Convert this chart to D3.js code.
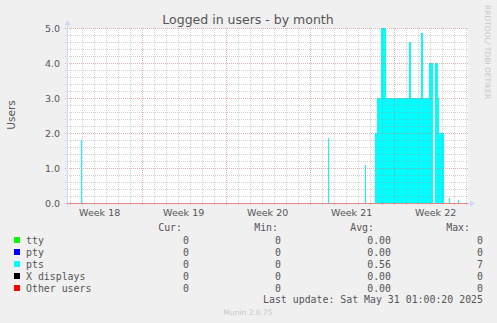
<!DOCTYPE html>
<html>
<head>
<meta charset="utf-8">
<script src="https://cdn.jsdelivr.net/npm/d3@7"></script>
<style>
  body { margin: 0; background: #f0f0f0; }
  text { font-family: "DejaVu Sans", sans-serif; }
  .mono { font-family: "DejaVu Sans Mono", monospace; }
</style>
</head>
<body>
<div id="chart"></div>
<script>
// pts series (step data, 2h resolution)
const ptsTimes = [
  "2025-04-28T18:40Z", "2025-04-29T22:40Z", "2025-04-30T00:40Z",
  "2025-05-20T12:40Z", "2025-05-20T14:40Z",
  "2025-05-23T14:40Z", "2025-05-23T16:40Z",
  "2025-05-24T10:40Z", "2025-05-24T14:40Z", "2025-05-24T22:40Z", "2025-05-25T08:40Z",
  "2025-05-27T06:40Z", "2025-05-27T10:40Z",
  "2025-05-28T06:40Z", "2025-05-28T10:40Z",
  "2025-05-28T22:40Z", "2025-05-29T06:40Z", "2025-05-29T10:40Z", "2025-05-29T16:40Z",
  "2025-05-29T18:40Z", "2025-05-30T04:40Z",
  "2025-05-30T14:40Z", "2025-05-30T16:40Z",
  "2025-05-31T08:40Z", "2025-05-31T10:40Z", "2025-06-01T02:40Z"
];
const ptsValues = [
  0, 1.8, 0,
  1.85, 0,
  1.1, 0,
  2, 3, 5, 3,
  4.6, 3,
  4.85, 3,
  4, 0, 4, 3,
  2, 0,
  0.15, 0,
  0.1, 0, 0
];

const yTicks = [0, 1, 2, 3, 4, 5];
const yTickLabels = ["0.0", "1.0", "2.0", "3.0", "4.0", "5.0"];

const legendNames = ["tty", "pty", "pts", "X displays", "Other users"];
const legendColors = ["#00ff00", "#0000ff", "#00ffff", "#000000", "#ff0000"];
const curVals = ["0", "0", "0", "0", "0"];
const minVals = ["0", "0", "0", "0", "0"];
const avgVals = ["0.00", "0.00", "0.56", "0.00", "0.00"];
const maxVals = ["0", "0", "7", "0", "0"];

const W = 497, H = 323;
const gLeft = 67, gRight = 467, gTop = 28, gBottom = 203;

const svg = d3.select("#chart").append("svg")
  .attr("width", W).attr("height", H);

svg.append("rect").attr("width", W).attr("height", H).attr("fill", "#f0f0f0");

const x = d3.scaleUtc()
  .domain([new Date("2025-04-28T18:40Z"), new Date("2025-06-01T02:40Z")])
  .range([gLeft, gRight]);
const y = d3.scaleLinear().domain([0, 5]).range([gBottom, gTop]);

// canvas
svg.append("rect")
  .attr("x", gLeft).attr("y", gTop)
  .attr("width", gRight - gLeft + 1).attr("height", gBottom - gTop)
  .attr("fill", "#ffffff");

// pts area (rrdtool draws the grid over the data)
const ptsData = ptsTimes.map((t, i) => ({ t: new Date(t), v: ptsValues[i] }));
const area = d3.area()
  .curve(d3.curveStepAfter)
  .x(d => Math.round(x(d.t)))
  .y0(y(0))
  .y1(d => y(d.v));
svg.append("path")
  .datum(ptsData)
  .attr("fill", "#00ffff")
  .attr("shape-rendering", "crispEdges")
  .attr("d", area);

// minor grid
const gridMinor = "rgba(150,150,150,0.42)";
const days = d3.utcDay.range(x.domain()[0], x.domain()[1]);
svg.append("g").selectAll("line")
  .data(days.filter(d => d.getUTCDay() !== 1))
  .join("line")
  .attr("x1", d => Math.round(x(d)) + 0.5).attr("x2", d => Math.round(x(d)) + 0.5)
  .attr("y1", gTop).attr("y2", gBottom + 2)
  .attr("stroke", gridMinor).attr("stroke-dasharray", "1,1");

const minorY = d3.range(0, 5.01, 0.2).filter(v => Math.abs(v - Math.round(v)) > 0.01);
svg.append("g").selectAll("line")
  .data(minorY)
  .join("line")
  .attr("x1", gLeft - 2).attr("x2", gRight + 1)
  .attr("y1", d => Math.round(y(d)) + 0.5).attr("y2", d => Math.round(y(d)) + 0.5)
  .attr("stroke", gridMinor).attr("stroke-dasharray", "1,1");

// major grid
const gridMajor = "rgba(220,110,110,0.55)";
const mondays = d3.utcMonday.range(x.domain()[0], x.domain()[1]);
svg.append("g").selectAll("line")
  .data(mondays)
  .join("line")
  .attr("x1", d => Math.round(x(d)) + 0.5).attr("x2", d => Math.round(x(d)) + 0.5)
  .attr("y1", gTop).attr("y2", gBottom + 3)
  .attr("stroke", gridMajor).attr("stroke-dasharray", "1,1");

svg.append("g").selectAll("line")
  .data(yTicks.filter(v => v > 0))
  .join("line")
  .attr("x1", gLeft - 2).attr("x2", gRight + 1)
  .attr("y1", d => Math.round(y(d)) + 0.5).attr("y2", d => Math.round(y(d)) + 0.5)
  .attr("stroke", gridMajor).attr("stroke-dasharray", "1,1");

// axes
svg.append("line")
  .attr("x1", gLeft + 0.5).attr("x2", gLeft + 0.5)
  .attr("y1", gBottom + 3).attr("y2", gTop - 4)
  .attr("stroke", "#cfd6f8");
svg.append("path")
  .attr("d", `M${gLeft - 2.5},${gTop - 3} L${gLeft + 0.5},${gTop - 8} L${gLeft + 3.5},${gTop - 3} Z`)
  .attr("fill", "#cfd6f8");
svg.append("line")
  .attr("x1", gLeft - 3).attr("x2", gRight + 4)
  .attr("y1", gBottom + 0.5).attr("y2", gBottom + 0.5)
  .attr("stroke", "#cfd6f8");
svg.append("line")
  .attr("x1", gLeft).attr("x2", gRight + 1)
  .attr("y1", gBottom + 0.5).attr("y2", gBottom + 0.5)
  .attr("stroke", "#e08888");
svg.append("path")
  .attr("d", `M${gRight + 3},${gBottom - 2.5} L${gRight + 8},${gBottom + 0.5} L${gRight + 3},${gBottom + 3.5} Z`)
  .attr("fill", "#cfd6f8");

// y tick labels
svg.append("g").selectAll("text")
  .data(yTicks)
  .join("text")
  .attr("x", 60).attr("y", d => y(d) + 3.5)
  .attr("text-anchor", "end")
  .attr("font-size", 9.5)
  .attr("fill", "#555")
  .text((d, i) => yTickLabels[i]);

// x labels (centered on each ISO week)
const weekStarts = d3.utcMonday.range(new Date("2025-04-27T00:00Z"), x.domain()[1]);
svg.append("g").selectAll("text")
  .data(weekStarts.filter(d => x(d3.utcHour.offset(d, 84)) < gRight))
  .join("text")
  .attr("x", d => x(d3.utcHour.offset(d, 84)))
  .attr("y", 216)
  .attr("text-anchor", "middle")
  .attr("font-size", 9.5)
  .attr("fill", "#555")
  .text(d => "Week " + +d3.utcFormat("%V")(d));

// title
svg.append("text")
  .attr("x", 248).attr("y", 24)
  .attr("text-anchor", "middle")
  .attr("font-size", 12.5)
  .attr("fill", "#555")
  .text("Logged in users - by month");

// y label
svg.append("text")
  .attr("transform", "translate(15,115) rotate(-90)")
  .attr("text-anchor", "middle")
  .attr("font-size", 10.5)
  .attr("fill", "#555")
  .text("Users");

// watermark
svg.append("text")
  .attr("transform", "translate(485,5) rotate(90)")
  .attr("font-size", 7.5)
  .attr("fill", "#c8c8c8")
  .text("RRDTOOL/ TOBI OETIKER");

// legend
const legend = svg.append("g").attr("class", "mono");
const cols = [
  { x: 182, head: "Cur:", vx: 189, vals: curVals },
  { x: 278, head: "Min:", vx: 281, vals: minVals },
  { x: 374, head: "Avg:", vx: 391, vals: avgVals },
  { x: 470, head: "Max:", vx: 483, vals: maxVals }
];
cols.forEach(c => {
  legend.append("text").attr("class", "mono")
    .attr("x", c.x).attr("y", 231).attr("text-anchor", "end")
    .attr("font-size", 9.9).attr("fill", "#555").text(c.head);
  legend.selectAll(null)
    .data(c.vals)
    .join("text").attr("class", "mono")
    .attr("x", c.vx).attr("y", (d, i) => 243.5 + i * 12)
    .attr("text-anchor", "end")
    .attr("font-size", 9.9).attr("fill", "#555")
    .text(d => d);
});
legend.selectAll("rect")
  .data(legendNames)
  .join("rect")
  .attr("x", 14).attr("y", (d, i) => 237 + i * 12)
  .attr("width", 6).attr("height", 6)
  .attr("fill", (d, i) => legendColors[i]);
legend.selectAll("text.name")
  .data(legendNames)
  .join("text")
  .attr("class", "mono name")
  .attr("x", 26).attr("y", (d, i) => 243.5 + i * 12)
  .attr("font-size", 9.9).attr("fill", "#555")
  .text(d => d);

legend.append("text").attr("class", "mono")
  .attr("x", 483).attr("y", 303).attr("text-anchor", "end")
  .attr("font-size", 9.9).attr("fill", "#555")
  .text("Last update: Sat May 31 01:00:20 2025");

svg.append("text")
  .attr("x", 248).attr("y", 315)
  .attr("text-anchor", "middle")
  .attr("font-size", 7.5)
  .attr("fill", "#c8c8c8")
  .text("Munin 2.0.75");
</script>
</body>
</html>
